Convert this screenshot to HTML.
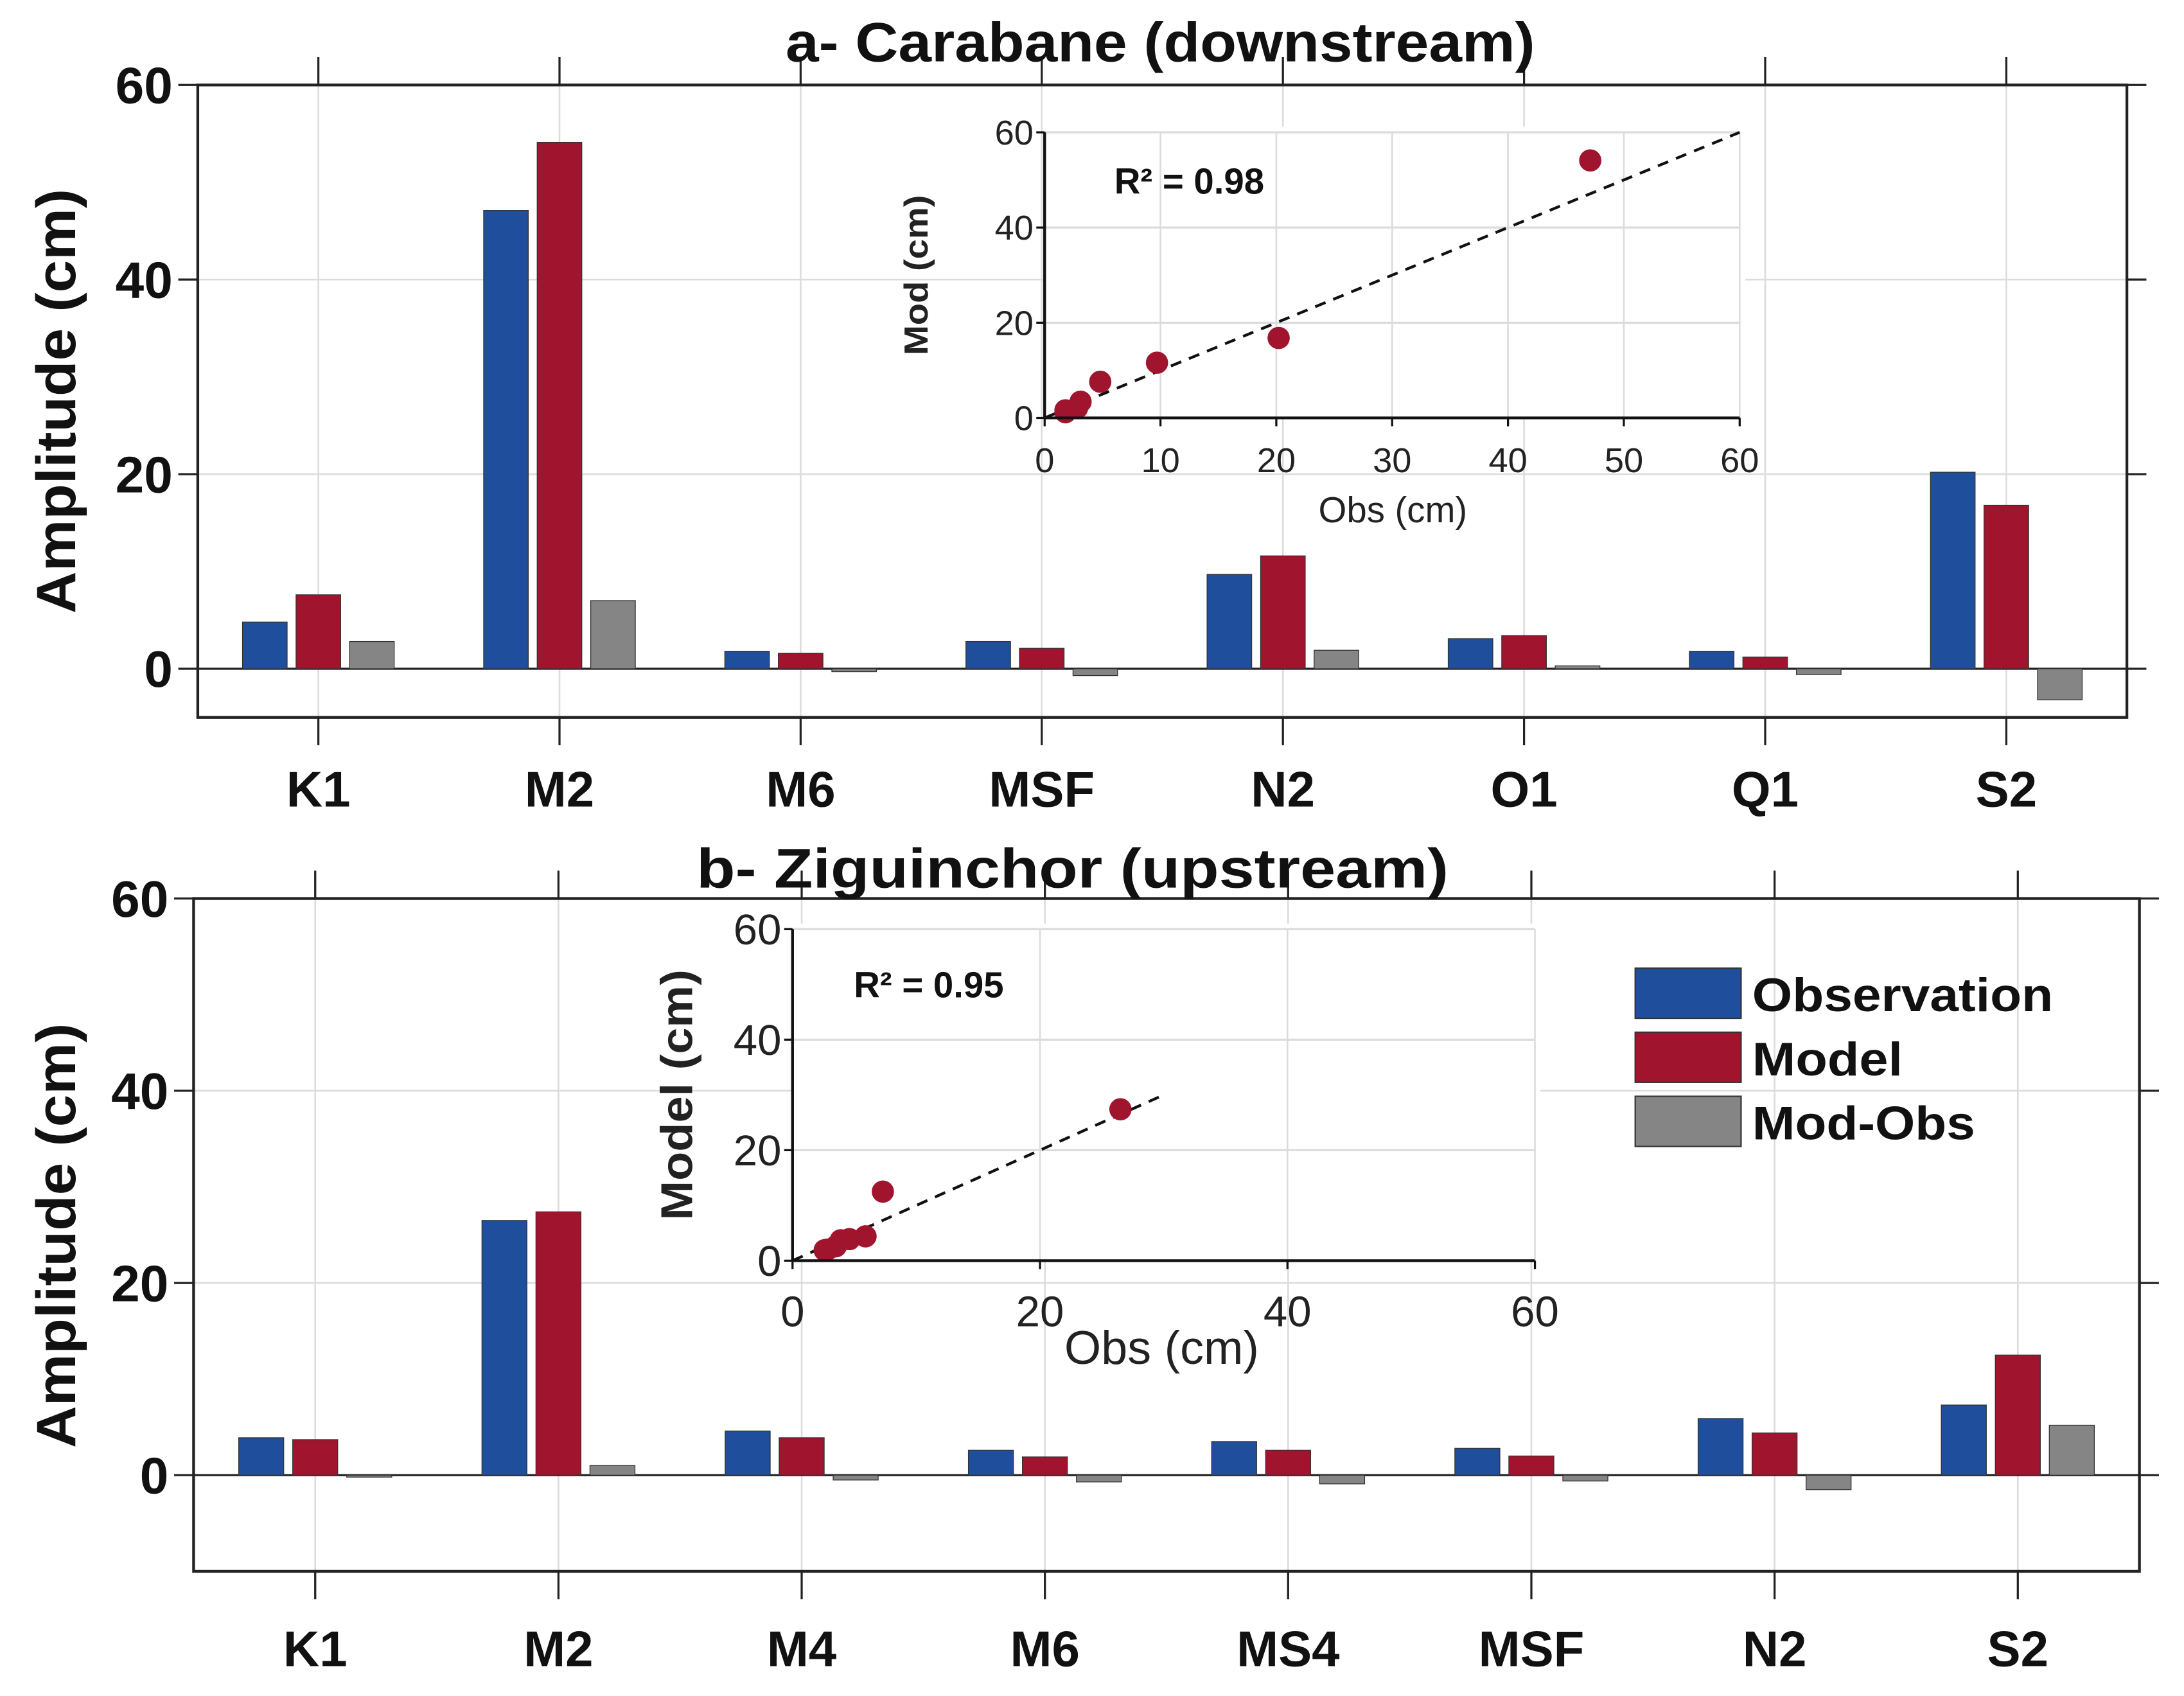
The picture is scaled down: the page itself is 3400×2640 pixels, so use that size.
<!DOCTYPE html>
<html><head><meta charset="utf-8"><style>
html,body{margin:0;padding:0;background:#fff;}
svg{display:block;}
text{font-family:"Liberation Sans Narrow","Liberation Sans",sans-serif;}
</style></head><body>
<svg id="fig" width="3400" height="2640" viewBox="0 0 1568 1217.5" xmlns="http://www.w3.org/2000/svg"></svg>
<script>
// Panel a data
const catsA = ["K1","M2","M6","MSF","N2","O1","Q1","S2"];
const obsA = [4.8,47.1,1.8,2.8,9.7,3.1,1.8,20.2];
const modA = [7.6,54.1,1.6,2.1,11.6,3.4,1.2,16.8];
const diffA = [2.8,7.0,-0.3,-0.7,1.9,0.3,-0.6,-3.2];
// Panel b data
const catsB = ["K1","M2","M4","M6","MS4","MSF","N2","S2"];
const obsB = [3.9,26.5,4.6,2.6,3.5,2.8,5.9,7.3];
const modB = [3.7,27.4,3.9,1.9,2.6,2.0,4.4,12.5];
const diffB = [-0.2,1.0,-0.5,-0.7,-0.9,-0.6,-1.5,5.2];
const yTicks = [0,20,40,60];
const insetTicksA = [0,10,20,30,40,50,60];
const insetTicksB = [0,20,40,60];

const NS="http://www.w3.org/2000/svg";
const svg=document.getElementById('fig');
function mk(tag,attrs,parent){const e=document.createElementNS(NS,tag);for(const k in attrs)e.setAttribute(k,attrs[k]);(parent||svg).appendChild(e);return e;}
function txt(s,attrs,parent){const e=mk('text',attrs,parent);e.textContent=s;return e;}
const BLUE="#1f4e9c",RED="#a0142e",GRAY="#858585";

function panel(cfg){
  const g=mk('g',{});
  
  
  const {L,R,T,B,ymin,ymax}=cfg;
  const n=cfg.cats.length;
  const sx=i=>L+(i+1-0.5)/n*(R-L);
  const sy=v=>B-(v-ymin)/(ymax-ymin)*(B-T);
  const step=(R-L)/n;
  cfg.cats.forEach((c,i)=>{const l=mk('line',{x1:sx(i),x2:sx(i),y1:T,y2:B,stroke:'#dcdcdc','stroke-width':1.2},g);
    });
  yTicks.forEach(v=>{const l=mk('line',{x1:L,x2:R,y1:sy(v),y2:sy(v),stroke:'#dcdcdc','stroke-width':1.2},g);
    });
  const z=mk('line',{x1:L,x2:R,y1:sy(0),y2:sy(0),stroke:'#222','stroke-width':1.5},g);
  
  const bw=step*0.185, off=step*0.222;
  const series=[[cfg.obs,BLUE,-off,'obs'],[cfg.mod,RED,0,'model'],[cfg.diff,GRAY,off,'diff']];
  series.forEach(([arr,col,o,nm])=>{
    arr.forEach((v,i)=>{
      const y0=sy(0),y1=sy(v);
      const r=mk('rect',{x:sx(i)+o-bw/2,y:Math.min(y0,y1),width:bw,height:Math.abs(y1-y0),fill:col,stroke:'#333','stroke-width':0.6},g);
      
      
    });
  });
  const bx=mk('rect',{x:L,y:T,width:R-L,height:B-T,fill:'none',stroke:'#222','stroke-width':2},g);
  
  cfg.cats.forEach((c,i)=>{
    mk('line',{x1:sx(i),x2:sx(i),y1:T,y2:T-20,stroke:'#222','stroke-width':1.5},g);
    mk('line',{x1:sx(i),x2:sx(i),y1:B,y2:B+20,stroke:'#222','stroke-width':1.5},g);
    const t=txt(c,{x:sx(i),y:cfg.labY,'text-anchor':'middle','font-size':36,'font-weight':'bold',fill:'#111'},g);
    
  });
  yTicks.forEach(v=>{
    mk('line',{x1:L,x2:L-14,y1:sy(v),y2:sy(v),stroke:'#222','stroke-width':1.5},g);
    mk('line',{x1:R,x2:R+14,y1:sy(v),y2:sy(v),stroke:'#222','stroke-width':1.5},g);
    const t=txt(String(v),{x:L-18,y:sy(v)+13,'text-anchor':'end','font-size':37,'font-weight':'bold',fill:'#111'},g);
    
  });
  const yl=txt('Amplitude (cm)',{x:0,y:0,transform:`translate(54,${cfg.ylabY}) rotate(-90)`,'text-anchor':'middle','font-size':40,'font-weight':'bold','font-family':'"Liberation Sans",sans-serif',fill:'#111',textLength:305,lengthAdjust:'spacingAndGlyphs'},g);
  
  const ti=txt(cfg.title,{x:cfg.titleX,y:cfg.titleY,'text-anchor':'middle','font-size':40,'font-weight':'bold',fill:'#111',textLength:cfg.titleW,lengthAdjust:'spacingAndGlyphs'},g);
  
  return g;
}

function inset(cfg){
  const g=mk('g',{});
  
  
  const {L,R,T,B}=cfg;
  const sx=v=>L+v/60*(R-L), sy=v=>B-v/60*(B-T);
  const bg=mk('rect',{x:L,y:T-4,width:R-L+4,height:B-T+4,fill:'#fff'},g);
  
  cfg.xt.forEach(v=>{mk('line',{x1:sx(v),x2:sx(v),y1:T,y2:B,stroke:'#dcdcdc','stroke-width':1.2},g);});
  [20,40,60].forEach(v=>{mk('line',{x1:L,x2:R,y1:sy(v),y2:sy(v),stroke:'#dcdcdc','stroke-width':1.5},g);});
  const dl=mk('line',{x1:sx(0),y1:sy(0),x2:sx(cfg.lineMax),y2:sy(cfg.lineMax),stroke:'#111','stroke-width':2,'stroke-dasharray':'8,6'},g);
  
  cfg.obs.forEach((o,i)=>{
    const c=mk('circle',{cx:sx(o),cy:sy(cfg.mod[i]),r:8,fill:RED},g);
    
  });
  mk('line',{x1:L,x2:R,y1:B,y2:B,stroke:'#111','stroke-width':2},g);
  mk('line',{x1:L,x2:L,y1:T,y2:B,stroke:'#111','stroke-width':2},g);
  cfg.xt.forEach(v=>{
    mk('line',{x1:sx(v),x2:sx(v),y1:B,y2:B+6,stroke:'#111','stroke-width':1.5},g);
    const t=txt(String(v),{x:sx(v),y:B+cfg.xlabOff,'text-anchor':'middle','font-size':cfg.fs,'font-weight':cfg.fw,fill:'#222'},g);
    
  });
  [0,20,40,60].forEach(v=>{
    mk('line',{x1:L,x2:L-6,y1:sy(v),y2:sy(v),stroke:'#111','stroke-width':1.5},g);
    const t=txt(String(v),{x:L-8,y:sy(v)+cfg.fs*0.35,'text-anchor':'end','font-size':cfg.fs,'font-weight':cfg.fw,fill:'#222'},g);
    
  });
  const xl=txt('Obs (cm)',{x:cfg.xlabX,y:cfg.xlabY,'text-anchor':'middle','font-size':cfg.fs2,'font-weight':cfg.fw,fill:'#222'},g);
  
  const yl=txt(cfg.ylab,{x:0,y:0,transform:`translate(${cfg.ylabX},${(T+B)/2}) rotate(-90)`,'text-anchor':'middle','font-size':cfg.fs3,'font-weight':'bold','font-family':'"Liberation Sans",sans-serif',fill:'#222',textLength:cfg.ylabW,lengthAdjust:'spacingAndGlyphs'},g);
  
  const r2=txt(cfg.r2,{x:cfg.r2X,y:cfg.r2Y,'font-size':26,'font-weight':'bold','font-family':'"Liberation Sans",sans-serif',fill:'#111'},g);
  
}

panel({name:'panel-a-carabane',cats:catsA,obs:obsA,mod:modA,diff:diffA,L:142,R:1527,T:61,B:515,ymin:-5,ymax:60,labY:579,ylabY:288,title:'a- Carabane (downstream)',titleX:833,titleY:44,titleW:538});
panel({name:'panel-b-ziguinchor',cats:catsB,obs:obsB,mod:modB,diff:diffB,L:139,R:1536,T:645,B:1128,ymin:-10,ymax:60,labY:1196,ylabY:887,title:'b- Ziguinchor (upstream)',titleX:770,titleY:637,titleW:540});

inset({name:'inset-a-scatter',L:750,R:1249,T:95,B:300,xt:insetTicksA,lineMax:60,obs:obsA,mod:modA,xlabOff:39,fs:25,fw:'normal',fs2:26,fs3:24,ylabW:115,xlabX:1000,xlabY:375,ylab:'Mod (cm)',ylabX:666,r2:'R² = 0.98',r2X:800,r2Y:139});
inset({name:'inset-b-scatter',L:569,R:1102,T:667,B:905,xt:insetTicksB,lineMax:30,obs:obsB,mod:modB,xlabOff:47,fs:31,fw:'normal',fs2:34,fs3:32,ylabW:180,xlabX:834,xlabY:979,ylab:'Model (cm)',ylabX:497,r2:'R² = 0.95',r2X:613,r2Y:716});

const lg=mk('g',{});


[['Observation',BLUE,695,216],['Model',RED,741,108],['Mod-Obs',GRAY,787,160]].forEach(([lab,col,y,w])=>{
  const r=mk('rect',{x:1174,y:y,width:76,height:36,fill:col,stroke:'#333','stroke-width':1},lg);
  
  const t=txt(lab,{x:1258,y:y+31,'font-size':34,'font-weight':'bold',fill:'#111',textLength:w,lengthAdjust:'spacingAndGlyphs'},lg);
  
});
</script>
</body></html>
